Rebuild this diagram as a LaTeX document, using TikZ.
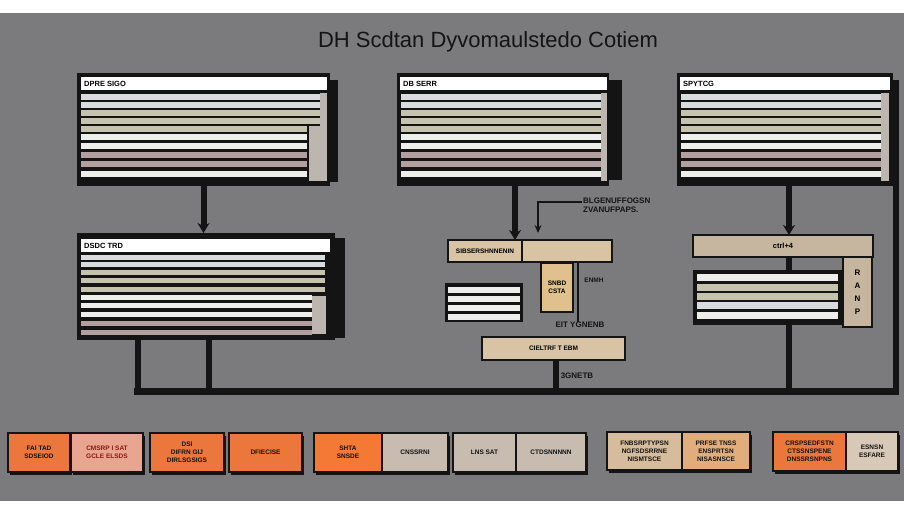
\documentclass[tikz,border=0pt]{standalone}
\usepackage{fontspec}
\setmainfont{Liberation Sans}
\setsansfont{Liberation Sans}
\usepackage{xcolor}
\usepackage{tikz}
\usetikzlibrary{shapes,arrows,arrows.meta,positioning,calc,shadows}

\definecolor{bggray}{HTML}{7B7B7D}
\definecolor{panelblack}{HTML}{141414}
\definecolor{sL}{HTML}{D9DCDC}
\definecolor{sG}{HTML}{C5C3AE}
\definecolor{sW}{HTML}{EEEEEA}
\definecolor{sP}{HTML}{B49FA0}
\definecolor{sideg}{HTML}{BDB6B0}
\definecolor{tanL}{HTML}{D8C3A4}
\definecolor{tanM}{HTML}{E0C08C}
\definecolor{tanR}{HTML}{C6B59F}
\definecolor{orng}{HTML}{EC773C}
\definecolor{orng2}{HTML}{F37935}
\definecolor{salmon}{HTML}{E8A590}
\definecolor{greytan}{HTML}{C8BCB1}
\definecolor{tanB}{HTML}{D6BB9C}
\definecolor{tanO}{HTML}{E2AD7D}
\definecolor{tanW}{HTML}{D8C8B8}
\definecolor{redtxt}{HTML}{8A1A10}

\pgfdeclarelayer{bg}
\pgfdeclarelayer{behind}
\pgfsetlayers{bg,behind,main}

\begin{document}
\begin{tikzpicture}[x=1pt,y=-1pt,
  box/.style={anchor=north west, inner sep=0pt, outer sep=0pt},
  panel/.style={box, fill=panelblack},
  header/.style={box, fill=white},
  hdtext/.style={anchor=west, font=\bfseries\fontsize{7.5}{8}\selectfont, inner sep=0pt},
  tanbox/.style={box, draw=panelblack, line width=2.5pt, fill=tanL, font=\bfseries\fontsize{6.5}{8}\selectfont, align=center},
  tag/.style={font=\bfseries\fontsize{8}{9}\selectfont, text=panelblack, inner sep=1pt},
  unit/.style={box, draw=panelblack, line width=2pt, font=\bfseries\fontsize{6.5}{8}\selectfont, align=center, text=panelblack,
    drop shadow={shadow xshift=1.5pt, shadow yshift=-3pt, fill=panelblack, opacity=1}},
  ptr/.style={-{Stealth[length=10pt,width=12pt]}, line width=6pt, draw=panelblack},
  wire/.style={line width=6pt, draw=panelblack},
  thinptr/.style={-{Stealth[length=8pt,width=7pt]}, line width=2pt, draw=panelblack}
]
\useasboundingbox (0,0) rectangle (904,512);
\begin{pgfonlayer}{bg}
\fill[white] (0,0) rectangle (904,512);
\fill[bggray] (0,13) rectangle (904,501);
\end{pgfonlayer}

% title
\node[font=\fontsize{22}{25}\selectfont, text=panelblack] (title) at (488,42) {DH Scdtan Dyvomaulstedo Cotiem};

% top panels
\node[panel, minimum width=253pt, minimum height=113pt] (pA) at (77,73) {};
\fill[panelblack] (pA.north east) ++(0,7) rectangle ++(8,102);
\node[header, minimum width=246pt, minimum height=13pt] (pAh) at (81,77) {};
\node[hdtext, right=3pt of pAh.west] {DPRE SIGO};
\foreach \y/\w/\c in {94/239/sL,102/239/sL,110/239/sG,118/239/sG,126/226/sG,134/226/sW,143/226/sW,152/226/sP,161/226/sP,171/226/sW}
  \fill[\c] (81,\y) rectangle ++(\w,6);
\fill[sideg] (320,93) rectangle (327,181);
\fill[sideg] (309,126) rectangle (320,181);

\node[panel, minimum width=212pt, minimum height=113pt] (pB) at (397,73) {};
\fill[panelblack] (pB.north east) ++(0,7) rectangle ++(13,100);
\node[header, minimum width=207pt, minimum height=13pt] (pBh) at (400,77) {};
\node[hdtext, right=3pt of pBh.west] {DB SERR};
\foreach \y/\c in {94/sL,102/sL,110/sG,118/sG,126/sG,134/sW,143/sW,152/sP,161/sP,171/sW}
  \fill[\c] (401,\y) rectangle ++(200,6);
\fill[sideg] (601,93) rectangle (607,181);

\node[panel, minimum width=216pt, minimum height=113pt] (pC) at (677,73) {};
\node[header, minimum width=210pt, minimum height=13pt] (pCh) at (680,77) {};
\node[hdtext, right=3pt of pCh.west] {SPYTCG};
\foreach \y/\c in {94/sL,102/sL,110/sG,118/sG,126/sG,134/sW,143/sW,152/sP,161/sP,171/sW}
  \fill[\c] (681,\y) rectangle ++(200,6);
\fill[sideg] (881,93) rectangle (889,181);

% lower left panel
\node[panel, minimum width=258pt, minimum height=107pt] (pD) at (77,233) {};
\fill[panelblack] (pD.north east) ++(0,5) rectangle ++(10,100);
\node[header, minimum width=249pt, minimum height=13pt] (pDh) at (81,239) {};
\node[hdtext, right=3pt of pDh.west] {DSDC TRD};
\foreach \y/\w/\c in {255/244/sL,262/244/sL,270/244/sG,278/244/sG,287/244/sG,295/231/sW,303/231/sW,312/231/sW,321/231/sP,330/231/sP}
  \fill[\c] (81,\y) rectangle ++(\w,5);
\fill[sideg] (312,296) rectangle (326,334);

% middle group
\node[tanbox, minimum width=164pt, minimum height=22pt] (mid) at (448,240) {};
\node[tanbox, line width=1.5pt, minimum width=74pt, minimum height=22pt] (midL) at (448,240) {SIBSERSHNNENIN};
\node[tanbox, fill=tanM, minimum width=32pt, minimum height=49pt] (sm) at (541,263) {SNBD\\CSTA};
\node[tag, font=\bfseries\fontsize{6.5}{7}\selectfont] (smt) at (594,280) {ENMH};
\node[box, fill=panelblack, minimum width=78pt, minimum height=39pt] (mst) at (445,283) {};
\foreach \y in {287,296,305,314}
  \fill[sW] (448,\y) rectangle ++(72,6);
\node[tag] (eit) at (580,325) {EIT YGNENB};
\node[tanbox, minimum width=143pt, minimum height=23pt] (low) at (482,337) {CIELTRF T EBM};
\node[tag] (gn) at (577,376) {3GNETB};
\node[tag, align=left, anchor=west, font=\bfseries\fontsize{8}{9}\selectfont] (note) at (582,205) {BLGENUFFOGSN\\ZVANUFPAPS.};
\coordinate (tick) at (578,322);

% right group
\node[tanbox, fill=tanR, minimum width=180pt, minimum height=22pt, font=\bfseries\fontsize{7.5}{8}\selectfont, text depth=-5pt] (ctrl) at (693,235) {ctrl+4};
\node[tanbox, fill=tanR, minimum width=29pt, minimum height=70pt, font=\bfseries\fontsize{8}{13}\selectfont] (vbox) at (843,257) {R\\A\\N\\P};
\node[box, fill=panelblack, minimum width=149pt, minimum height=55pt] (rst) at (693,270) {};
\foreach \y/\c in {274/sW,284/sG,293/sG,302/sL,312/sW}
  \fill[\c] (697,\y) rectangle ++(141,7);

% bus and connectors
\coordinate (busL) at (134,391);
\coordinate (busR) at (899,391);
\begin{pgfonlayer}{behind}
\draw[ptr] (pA.south) -- (pA.south |- pD.north);
\draw[ptr] ([xshift=12pt]pB.south) -- ([xshift=12pt]pB.south |- mid.north);
\draw[ptr] ([xshift=4pt]pC.south) -- ([xshift=4pt]pC.south |- ctrl.north);
\draw[wire] ([xshift=4pt]pC.south |- ctrl.south) -- ([xshift=4pt]pC.south |- busL);
\draw[wire] ([xshift=-68pt]pD.south) -- ([xshift=-68pt]pD.south |- busL);
\draw[wire] ([xshift=3pt]pD.south) -- ([xshift=3pt]pD.south |- busL);
\draw[wire] ([xshift=2pt]low.south) -- ([xshift=2pt]low.south |- busL);
\draw[wire, line width=7pt] (busL) -- (busR);
\draw[wire] (pC.north east) ++(3,7) coordinate (rtop) -- (rtop |- busL);
\draw[line width=2pt, draw=panelblack] ([xshift=48pt]mid.south) -- (tick);
\end{pgfonlayer}
\draw[thinptr, shorten >=7pt] ([yshift=-6pt]note.north west) -| ([xshift=8pt]mid.north);

% bottom row
\node[unit, fill=orng, minimum width=62pt, minimum height=39pt] (u1) at (8,433) {FAI TAD\\SDSEIOD};
\node[unit, fill=salmon, text=redtxt, minimum width=72pt, minimum height=39pt] (u2) at (71,433) {CMSRP I SAT\\GCLE ELSDS};
\node[unit, fill=orng, minimum width=74pt, minimum height=39pt] (u3) at (150,433) {DSI\\DIFRN GIJ\\DIRLSGSIGS};
\node[unit, fill=orng, minimum width=73pt, minimum height=39pt] (u4) at (229,433) {DFIECISE};
\node[unit, fill=orng2, minimum width=68pt, minimum height=39pt] (u5) at (314,433) {SHTA\\SNSDE};
\node[unit, fill=greytan, minimum width=66pt, minimum height=39pt] (u6) at (382,433) {CNSSRNI};
\node[unit, fill=greytan, minimum width=63pt, minimum height=39pt] (u7) at (453,433) {LNS SAT};
\node[unit, fill=greytan, minimum width=70pt, minimum height=39pt] (u8) at (516,433) {CTDSNNNNN};
\node[unit, fill=tanB, minimum width=75pt, minimum height=38pt] (u9) at (607,432) {FNBSRPTYPSN\\NGFSDSRRNE\\NISMTSCE};
\node[unit, fill=tanO, minimum width=68pt, minimum height=38pt] (u10) at (682,432) {PRFSE TNSS\\ENSPRTSN\\NISASNSCE};
\node[unit, fill=orng, minimum width=73pt, minimum height=39pt] (u11) at (773,432) {CRSPSEDFSTN\\CTSSNSPENE\\DNSSRSNPNS};
\node[unit, fill=tanW, minimum width=52pt, minimum height=39pt] (u12) at (846,432) {ESNSN\\ESFARE};
\end{tikzpicture}
\end{document}
